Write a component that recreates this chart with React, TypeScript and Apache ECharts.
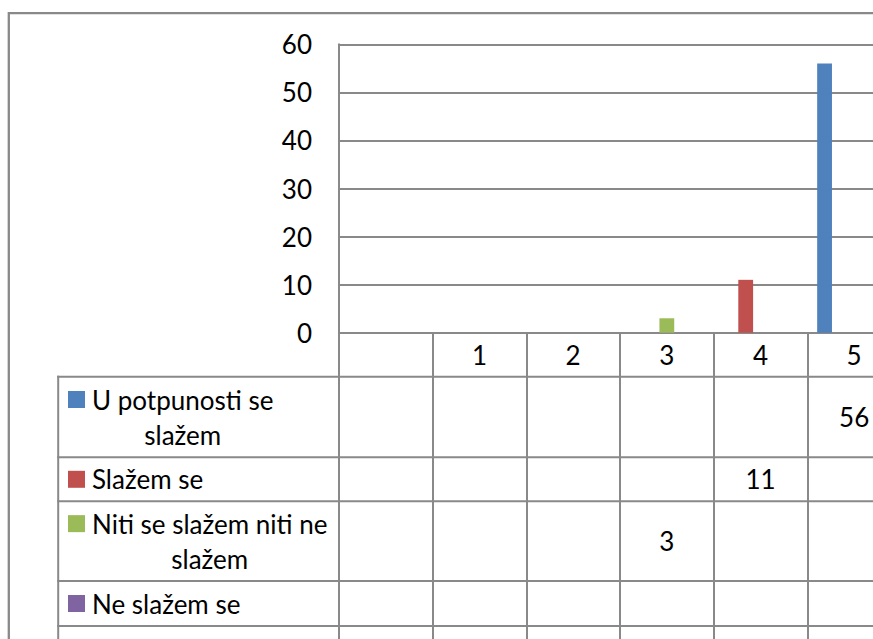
import React, { useEffect, useRef } from 'react';
import * as echarts from 'echarts';

const categories = ['', '1', '2', '3', '4', '5'];
const seriesNames = [
  'U potpunosti se slažem',
  'Slažem se',
  'Niti se slažem niti ne slažem',
  'Ne slažem se',
  'Uopšte se ne slažem',
];
const rowLabels = [
  'U potpunosti se\nslažem',
  'Slažem se',
  'Niti se slažem niti ne\nslažem',
  'Ne slažem se',
  'Uopšte se ne slažem',
];
const stronglyAgree = [null, null, null, null, null, 56];
const agree = [null, null, null, null, 11, null];
const neutral = [null, null, null, 3, null, null];
const disagree = [null, null, null, null, null, null];
const stronglyDisagree = [null, null, null, null, null, null];
const yMin = 0;
const yMax = 60;
const yStep = 10;

const colors = ['#4F81BD', '#C0504D', '#9BBB59', '#8064A2', '#4BACC6'];
const GRAY = '#898989';
const FONT = 'Lato';
const FS = 26;
const rowEdges = [376.7, 457.3, 501.3, 581, 626, 678];

export default function App() {
  const ref = useRef<HTMLDivElement>(null);
  useEffect(() => {
    if (!ref.current) return;
    const chart = echarts.init(ref.current, null, { renderer: 'svg' });
    const seriesData = [stronglyAgree, agree, neutral, disagree, stronglyDisagree];
    const textStyle = { color: '#000', fontFamily: FONT, fontSize: FS };
    chart.setOption({
      animation: false,
      grid: { left: 339, top: 44.3, width: 562, height: 288.4 },
      xAxis: {
        type: 'category',
        data: categories,
        axisLine: { show: true, lineStyle: { color: GRAY, width: 2 } },
        axisTick: { show: true, interval: 0, length: 320, lineStyle: { color: GRAY, width: 2 } },
        axisLabel: { ...textStyle, interval: 0, margin: 22, verticalAlign: 'middle' },
        splitLine: { show: false },
      },
      yAxis: {
        type: 'value',
        min: yMin,
        max: yMax,
        interval: yStep,
        axisLine: { show: true, lineStyle: { color: GRAY, width: 2 } },
        axisTick: { show: false },
        axisLabel: { ...textStyle, margin: 27 },
        splitLine: { show: true, lineStyle: { color: GRAY, width: 2 } },
      },
      series: seriesData.map((d, i) => ({
        type: 'bar',
        name: seriesNames[i],
        data: d,
        itemStyle: { color: colors[i] },
        barGap: '0%',
        barCategoryGap: '21%',
      })),
    });

    const ctx = document.createElement('canvas').getContext('2d');
    const measure = (s: string) => {
      if (!ctx) return s.length * FS * 0.5;
      ctx.font = `${FS}px ${FONT}`;
      return ctx.measureText(s).width;
    };

    const elements: any[] = [];
    elements.push({
      type: 'rect',
      shape: { x: 8.8, y: 13.2, width: 1500, height: 1500 },
      style: { fill: 'none', stroke: GRAY, lineWidth: 2.3 },
      silent: true,
    });
    rowEdges.slice(0, 5).forEach((y) => {
      elements.push({
        type: 'line',
        shape: { x1: 57.2, y1: y, x2: 1500, y2: y },
        style: { stroke: GRAY, lineWidth: 2 },
      });
    });
    elements.push({
      type: 'line',
      shape: { x1: 58.2, y1: rowEdges[0] - 1, x2: 58.2, y2: 1500 },
      style: { stroke: GRAY, lineWidth: 2 },
    });

    const lineH = 35;
    rowLabels.forEach((label, r) => {
      const cy = (rowEdges[r] + rowEdges[r + 1]) / 2;
      const lines = label.split('\n');
      const w = Math.max(...lines.map(measure));
      const firstCy = cy - ((lines.length - 1) * lineH) / 2;
      elements.push({
        type: 'rect',
        shape: { x: 68, y: firstCy - 8.5, width: 17, height: 17 },
        style: { fill: colors[r] },
      });
      elements.push({
        type: 'text',
        style: {
          text: label,
          x: 92 + w / 2,
          y: cy,
          textAlign: 'center',
          textVerticalAlign: 'middle',
          lineHeight: lineH,
          fontFamily: FONT,
          fontSize: FS,
          fill: '#000',
        },
      });
      seriesData[r].forEach((v, c) => {
        if (v === null || v === undefined) return;
        const x = chart.convertToPixel({ xAxisIndex: 0 }, c) as number;
        elements.push({
          type: 'text',
          style: {
            text: String(v),
            x,
            y: cy,
            textAlign: 'center',
            textVerticalAlign: 'middle',
            fontFamily: FONT,
            fontSize: FS,
            fill: '#000',
          },
        });
      });
    });

    chart.setOption({ graphic: { elements } });
    return () => chart.dispose();
  }, []);
  return (
    <div
      ref={ref}
      style={{ position: 'fixed', left: 0, top: 0, width: 960, height: 700, background: '#fff' }}
    />
  );
}
